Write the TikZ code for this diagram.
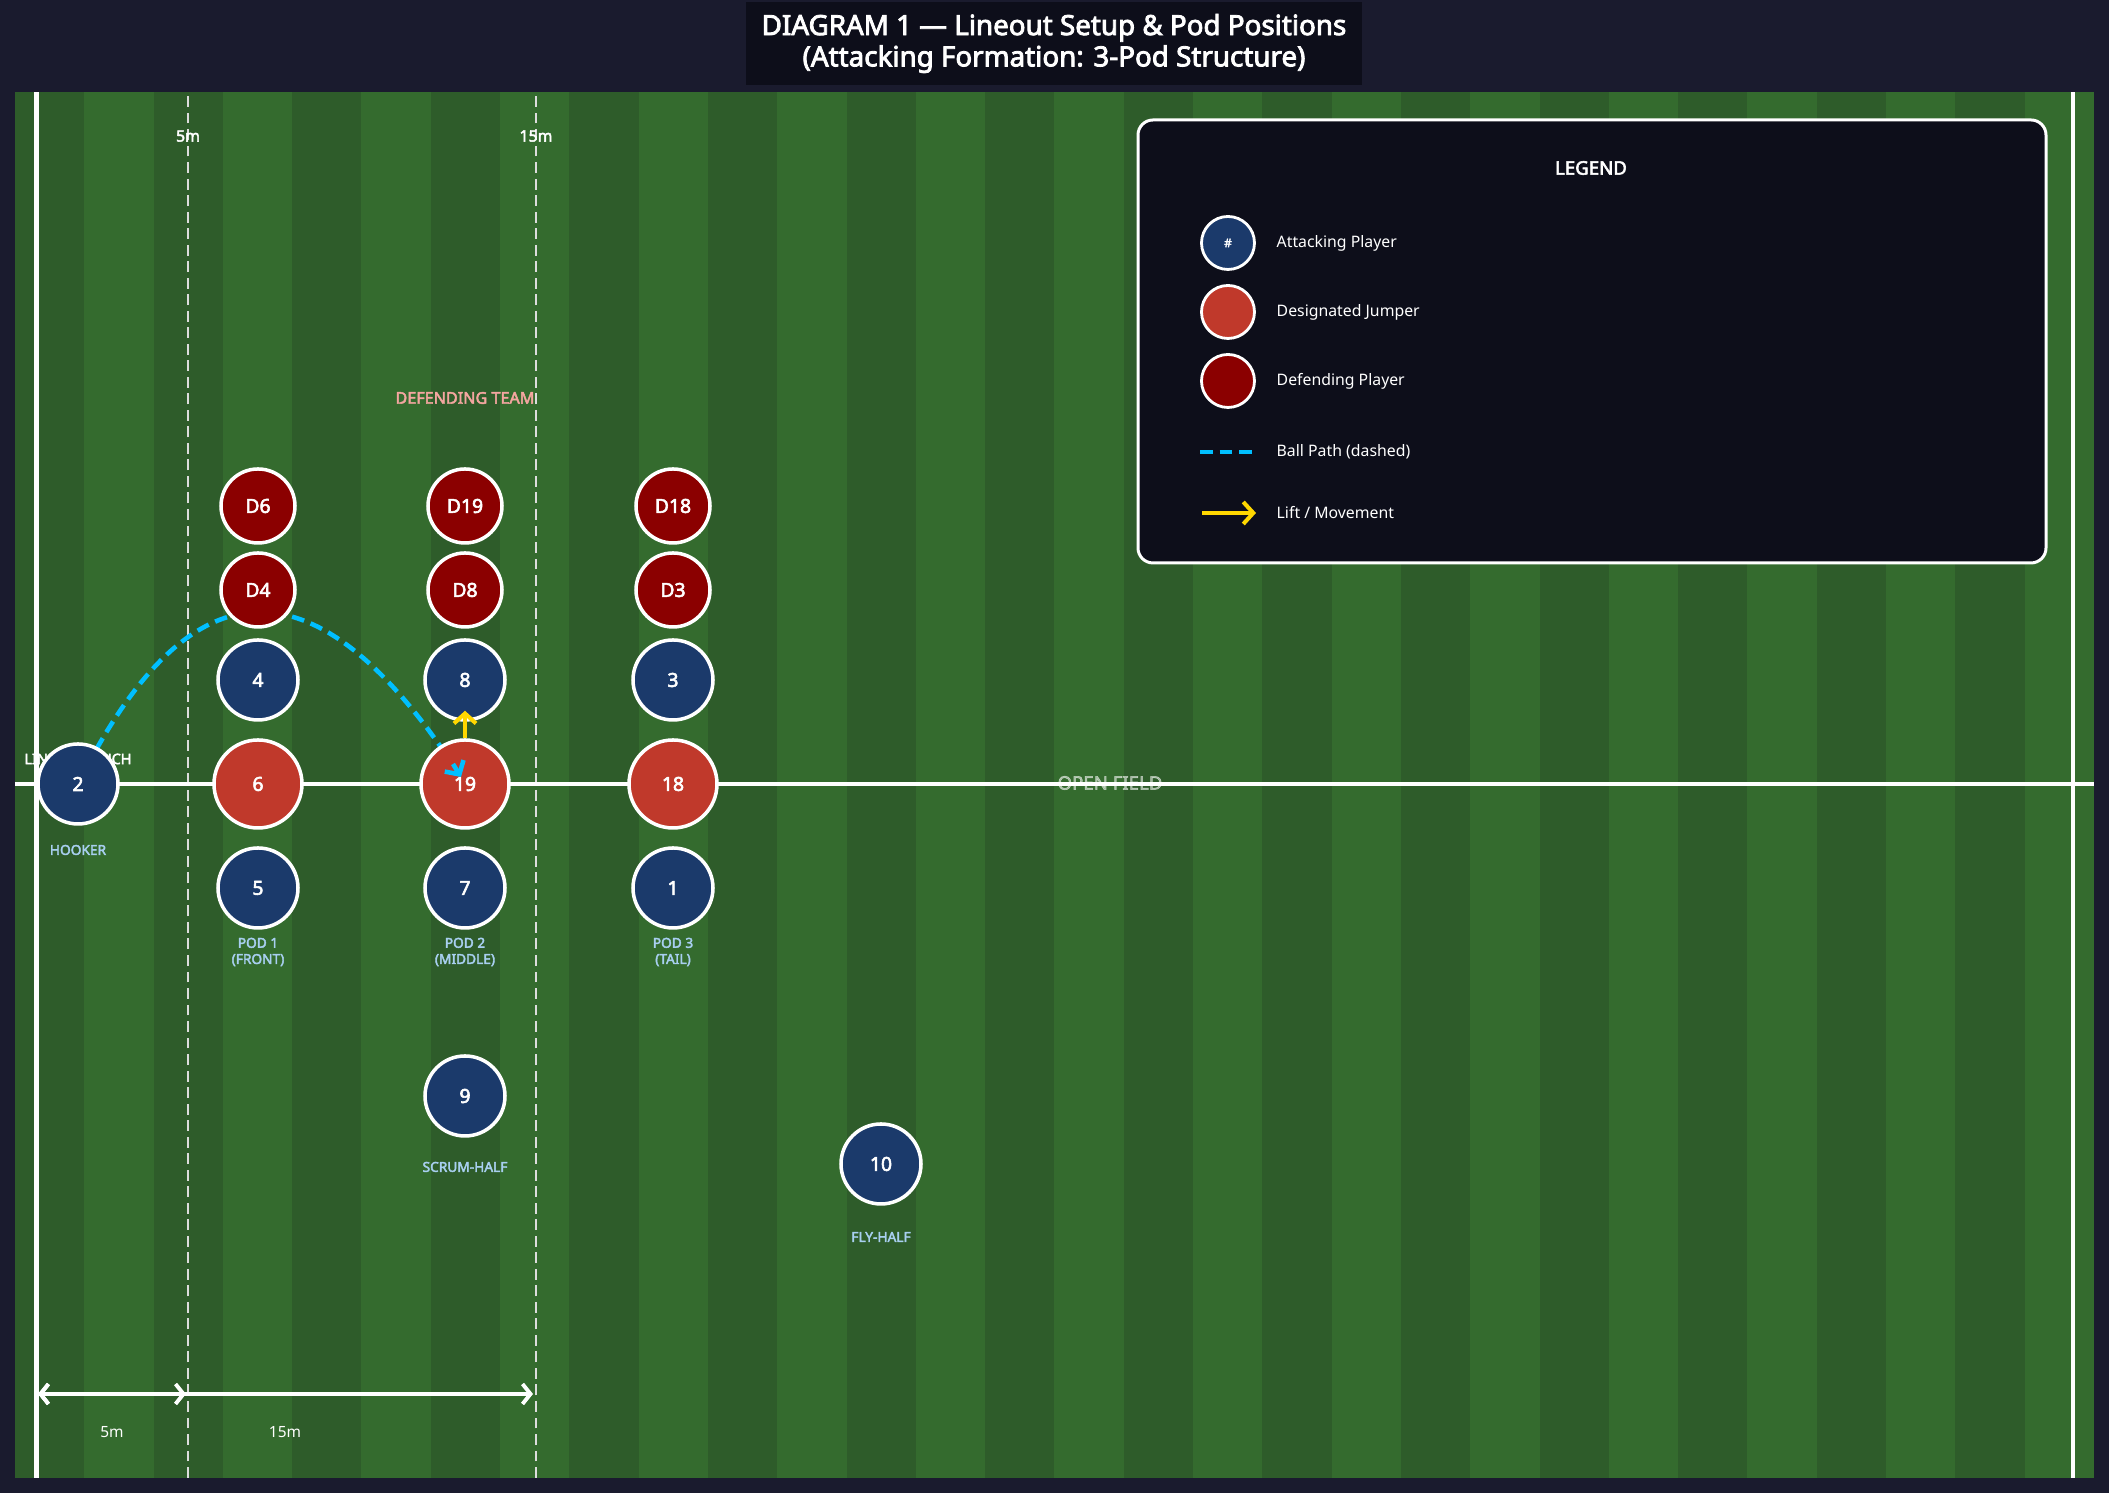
\documentclass[tikz,border=0pt]{standalone}
\usepackage{fontspec}
\setmainfont{Noto Sans}[BoldFont={Noto Sans}, BoldFeatures={FakeBold=3}]
\usetikzlibrary{arrows.meta}
\pgfdeclarelayer{background}
\pgfsetlayers{background,main}
\definecolor{pagebg}{HTML}{1A1B2E}
\definecolor{panel}{HTML}{0D0E1A}
\definecolor{turfdark}{HTML}{2E5C2A}
\definecolor{turflight}{HTML}{346B2E}
\definecolor{attack}{HTML}{1B3A6B}
\definecolor{jumper}{HTML}{C0392B}
\definecolor{defend}{HTML}{8B0000}
\definecolor{ballcol}{HTML}{00BFFF}
\definecolor{liftcol}{HTML}{FFD700}
\definecolor{rolecol}{HTML}{A8CFF0}
\definecolor{defcol}{HTML}{F4A6A0}
\definecolor{markcol}{HTML}{DDDDDD}

\begin{document}
\begin{tikzpicture}[
    player/.style={circle, draw=white, line width=1pt, text=white, inner sep=0pt, font=\fontsize{5.5}{6.5}\selectfont\bfseries},
    att/.style={player, fill=attack, minimum size=0.80cm},
    jump/.style={player, fill=jumper, minimum size=0.88cm},
    def/.style={player, fill=defend, minimum size=0.74cm},
    role/.style={text=rolecol, align=center, inner sep=0pt, font=\fontsize{3.9}{4.6}\selectfont\bfseries},
    marker/.style={markcol, line width=0.85pt, dash pattern=on 3.1pt off 1.6pt},
    ballpath/.style={ballcol, line width=1.3pt, dash pattern=on 3.6pt off 2pt},
    lift/.style={liftcol, line width=1.15pt, -{Straight Barb[length=0.1cm,width=0.22cm]}},
    dimline/.style={white, line width=1.1pt, {Straight Barb[length=0.08cm,width=0.2cm]}-{Straight Barb[length=0.08cm,width=0.2cm]}},
    keytext/.style={anchor=west, inner sep=0pt, text=white, font=\fontsize{4.5}{5.4}\selectfont},
    keydot/.style={minimum size=0.53cm, line width=0.8pt},
  ]
    \useasboundingbox (0,0) rectangle (21.09,14.93);

    \node[fill=panel, minimum width=6.16cm, minimum height=0.77cm, align=center, text=white, font=\fontsize{7.9}{8.9}\selectfont\bfseries] (title) at (10.54,14.495) {DIAGRAM 1 — Lineout Setup \& Pod Positions\\(Attacking Formation: 3-Pod Structure)};

    \node[text=white, font=\fontsize{4.5}{5.4}\selectfont\bfseries] (top5) at (1.88,13.57) {5m};
    \node[text=white, font=\fontsize{4.5}{5.4}\selectfont\bfseries] (top15) at (5.36,13.57) {15m};

    \node[text=defcol, font=\fontsize{4.6}{5.5}\selectfont\bfseries] (defteam) at (4.65,10.95) {DEFENDING TEAM};
    \node[text=white, inner sep=0pt, font=\fontsize{4.1}{4.9}\selectfont\bfseries] (touch) at (0.78,7.34) {LINE OF TOUCH};

    \node[def] (D6) at (2.58,9.87) {D6};
    \node[def] (D19) at (4.65,9.87) {D19};
    \node[def] (D18) at (6.73,9.87) {D18};
    \node[def] (D4) at (2.58,9.03) {D4};
    \node[def] (D8) at (4.65,9.03) {D8};
    \node[def] (D3) at (6.73,9.03) {D3};

    \node[att] (P4) at (2.58,8.13) {4};
    \node[att] (P8) at (4.65,8.13) {8};
    \node[att] (P3) at (6.73,8.13) {3};

    \node[att] (P2) at (0.78,7.09) {2};
    \node[jump] (P6) at (2.58,7.09) {6};
    \node[jump] (P19) at (4.65,7.09) {19};
    \node[jump] (P18) at (6.73,7.09) {18};

    \node[att] (P5) at (2.58,6.05) {5};
    \node[att] (P7) at (4.65,6.05) {7};
    \node[att] (P1) at (6.73,6.05) {1};

    \node[att] (P9) at (4.65,3.97) {9};
    \node[att] (P10) at (8.81,3.29) {10};

    \node[role] (hooker) at (0.78,6.43) {HOOKER};
    \node[role] (pod1) at (2.58,5.41) {POD 1\\(FRONT)};
    \node[role] (pod2) at (4.65,5.41) {POD 2\\(MIDDLE)};
    \node[role] (pod3) at (6.73,5.41) {POD 3\\(TAIL)};
    \node[role] (scrumhalf) at (4.65,3.26) {SCRUM-HALF};
    \node[role] (flyhalf) at (8.81,2.56) {FLY-HALF};

    \coordinate (balltip) at (4.61,7.16);
    \draw[lift] (P19.north) -- ([yshift=0.11cm]P8.south);
    \draw[ballcol, line width=1.3pt, -{Straight Barb[length=0.1cm,width=0.22cm]}] ([shift={(-0.08,0.13)}]balltip) -- (balltip);

    \coordinate (side) at (0.38,0.99);
    \coordinate (five) at (1.86,0.99);
    \coordinate (fifteen) at (5.33,0.99);
    \draw[dimline] (side) -- (five);
    \draw[dimline] (side) -- (fifteen);
    \node[text=white, font=\fontsize{4.4}{5.3}\selectfont] (dim5) at (1.12,0.61) {5m};
    \node[text=white, font=\fontsize{4.4}{5.3}\selectfont] (dim15) at (2.85,0.61) {15m};

    \node[draw=white, line width=0.85pt, fill=panel, rounded corners=0.15cm, minimum width=9.08cm, minimum height=4.43cm] (legend) at (15.92,11.515) {};
    \node[text=white, font=\fontsize{5.3}{6.3}\selectfont\bfseries] (legtitle) at (15.91,13.25) {LEGEND};
    \node[att, keydot, font=\fontsize{3.4}{4}\selectfont\bfseries] (keyatt) at (12.28,12.50) {\#};
    \node[keytext] (keyatttext) at (12.76,12.50) {Attacking Player};
    \node[jump, keydot] (keyjump) at (12.28,11.81) {};
    \node[keytext] (keyjumptext) at (12.76,11.81) {Designated Jumper};
    \node[def, keydot] (keydef) at (12.28,11.12) {};
    \node[keytext] (keydeftext) at (12.76,11.12) {Defending Player};
    \coordinate (keyballA) at (12.00,10.41);
    \coordinate (keyballB) at (12.59,10.41);
    \draw[ballpath] (keyballA) -- (keyballB);
    \node[keytext] (keyballtext) at (12.76,10.41) {Ball Path (dashed)};
    \coordinate (keyliftA) at (12.02,9.80);
    \coordinate (keyliftB) at (12.56,9.80);
    \draw[lift] (keyliftA) -- (keyliftB);
    \node[keytext] (keylifttext) at (12.76,9.80) {Lift / Movement};

    \begin{pgfonlayer}{background}
      \fill[pagebg] (0,0) rectangle (21.09,14.93);
      \fill[turflight] (0.15,0.15) rectangle (20.94,14.01);
      \foreach \i in {0,2,...,28}
        \fill[turfdark] ({0.15+0.693*\i},0.15) rectangle ++(0.693,13.86);
      \draw[white, line width=1.3pt] (0.365,0.15) -- (0.365,14.01);
      \draw[white, line width=1.3pt] (20.73,0.15) -- (20.73,14.01);
      \draw[marker] (1.88,0.15) -- (1.88,14.01);
      \draw[marker] (5.36,0.15) -- (5.36,14.01);
      \node[text=white, opacity=0.55, font=\fontsize{5.3}{6.3}\selectfont\bfseries] (openfield) at (11.10,7.10) {OPEN FIELD};
      \draw[white, line width=1.2pt] (0.15,7.09) -- (20.94,7.09);
      \draw[ballpath] (P2.center) .. controls (1.91,9.36) and (3.18,9.38) .. (balltip);
    \end{pgfonlayer}
\end{tikzpicture}
\end{document}
